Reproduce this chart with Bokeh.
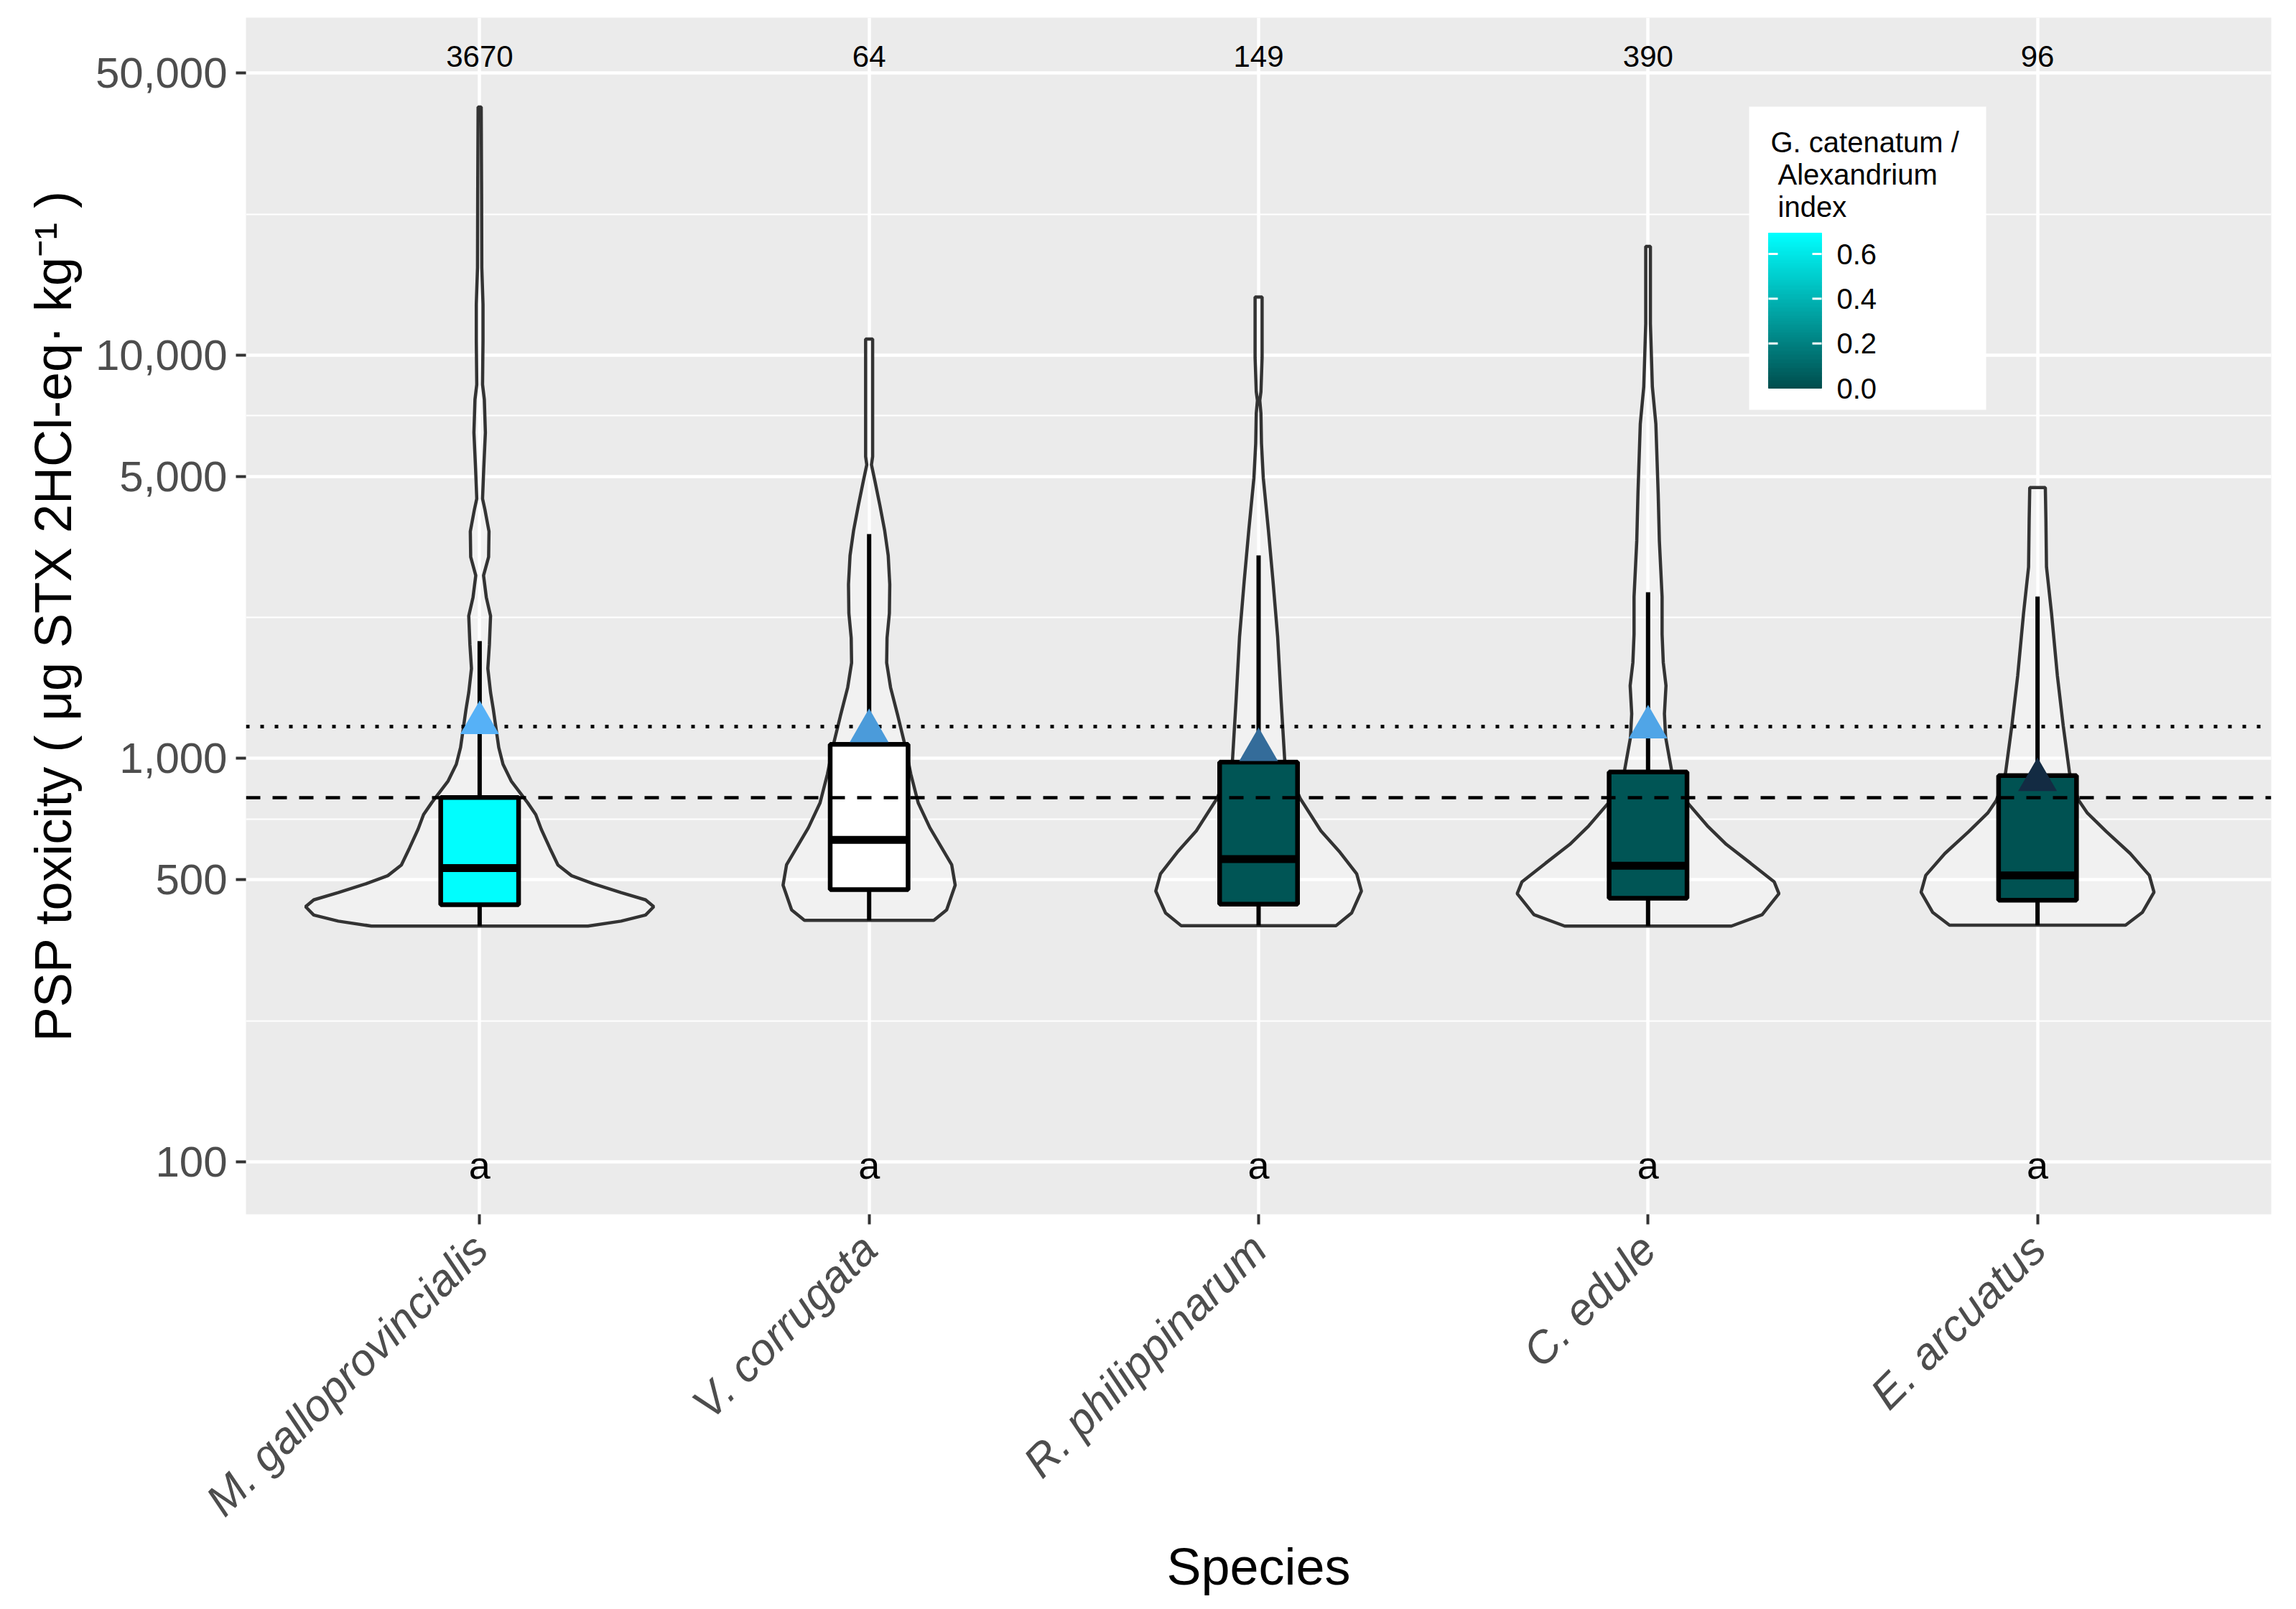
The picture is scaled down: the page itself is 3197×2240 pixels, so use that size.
import math
import numpy as np
from bokeh.plotting import figure
from bokeh.models import Range1d, FixedTicker, NumeralTickFormatter
from bokeh.core.properties import value
from bokeh.embed import file_html
from bokeh.resources import INLINE

# ---------------- data ----------------
species = ["M. galloprovincialis", "V. corrugata", "R. philippinarum", "C. edule", "E. arcuatus"]
n_samples = ["3670", "64", "149", "390", "96"]
letters = ["a", "a", "a", "a", "a"]
gc_alex_index = [0.69, None, 0.03, 0.03, 0.02]   # None -> white (no value)

whisker_low = [384, 397, 385, 384, 386]
q1 = [434, 473, 435, 450, 445]
median = [535, 628, 563, 542, 513]
q3 = [800, 1084, 979, 925, 907]
whisker_high = [1954, 3600, 3187, 2583, 2520]
mean_tox = [1225, 1170, 1050, 1195, 885]

eu_limit = 800
overall_ref = 1200

# violin outlines: toxicity value and half-width (fraction of category spacing)
vio_mg_val = [384, 395, 409, 429, 446, 465, 489, 512, 544, 600, 668, 726, 777, 879, 967, 1065,
              1187, 1324, 1456, 1671, 1915, 2256, 2510, 2841, 3157, 3654, 4140, 4405, 5210,
              6424, 7760, 8450, 10840, 13370, 16480, 25000, 41200]
vio_mg_hw = [0.278, 0.363, 0.426, 0.447, 0.426, 0.363, 0.292, 0.236, 0.201, 0.180, 0.158, 0.144,
             0.123, 0.081, 0.060, 0.049, 0.042, 0.035, 0.028, 0.021, 0.025, 0.028, 0.017, 0.010,
             0.023, 0.024, 0.0135, 0.0074, 0.0104, 0.0147, 0.012, 0.0074, 0.0086, 0.0086,
             0.0055, 0.005, 0.004]
vio_vc_val = [397, 421, 485, 545, 599, 673, 776, 915, 1079, 1272, 1500, 1727, 1989, 2291, 2701,
              3185, 3667, 4222, 4864, 5345, 5603, 10960]
vio_vc_hw = [0.166, 0.199, 0.221, 0.212, 0.187, 0.156, 0.126, 0.107, 0.092, 0.074, 0.055, 0.045,
             0.046, 0.052, 0.053, 0.049, 0.040, 0.028, 0.015, 0.006, 0.009, 0.009]
vio_rp_val = [385, 414, 469, 517, 585, 661, 795, 888, 992, 1382, 1998, 2750, 3694, 4961, 6039,
              7172, 7720, 8110, 9874, 13930]
vio_rp_hw = [0.199, 0.239, 0.264, 0.252, 0.209, 0.160, 0.107, 0.086, 0.067, 0.058, 0.049, 0.037,
             0.025, 0.012, 0.0074, 0.006, 0.003, 0.006, 0.009, 0.009]
vio_ce_val = [384, 410, 462, 494, 550, 612, 681, 773, 842, 938, 1130, 1291, 1515, 1730, 2031,
              2515, 3463, 4521, 6747, 8352, 11970, 18600]
vio_ce_hw = [0.214, 0.293, 0.336, 0.324, 0.263, 0.201, 0.152, 0.103, 0.079, 0.060, 0.045, 0.042,
             0.046, 0.039, 0.036, 0.036, 0.029, 0.026, 0.020, 0.011, 0.006, 0.006]
vio_ea_val = [386, 415, 466, 513, 581, 658, 732, 786, 860, 923, 1204, 1601, 2286, 2983, 3896, 4695]
vio_ea_hw = [0.226, 0.269, 0.299, 0.287, 0.238, 0.177, 0.128, 0.106, 0.091, 0.082, 0.066, 0.051,
             0.036, 0.023, 0.0215, 0.020]

violin_vals = [vio_mg_val, vio_vc_val, vio_rp_val, vio_ce_val, vio_ea_val]
violin_hws = [vio_mg_hw, vio_vc_hw, vio_rp_hw, vio_ce_hw, vio_ea_hw]

y_ticks = [100, 500, 1000, 5000, 10000, 50000]
legend_ticks = [0.0, 0.2, 0.4, 0.6]
legend_max = 0.693

# ---------------- helpers ----------------
def hex_to_rgb(h):
    h = h.lstrip("#")
    return tuple(int(h[i:i + 2], 16) for i in (0, 2, 4))

def mix(c0, c1, t):
    a, b = hex_to_rgb(c0), hex_to_rgb(c1)
    t = min(max(t, 0.0), 1.0)
    return "#%02x%02x%02x" % tuple(int(round(a[i] + (b[i] - a[i]) * t)) for i in range(3))

FILL_LOW, FILL_HIGH = "#004d4d", "#00ffff"
COL_LOW, COL_HIGH = "#132b43", "#56b1f7"

cats = list(range(1, len(species) + 1))
box_fill = ["white" if v is None else mix(FILL_LOW, FILL_HIGH, v / legend_max) for v in gc_alex_index]
mn, mx = min(mean_tox), max(mean_tox)
tri_col = [mix(COL_LOW, COL_HIGH, (m - mn) / (mx - mn)) for m in mean_tox]

FW, FH = 2820, 1666
X0, X1 = 0.4, 5.6
Y0, Y1 = 74.1, 68640.0

def fx(px):
    return X0 + px / FW * (X1 - X0)

def fy(py):
    return 10 ** (math.log10(Y1) - py / FH * (math.log10(Y1) - math.log10(Y0)))

FONT = "Liberation Sans"

p = figure(x_range=Range1d(X0, X1), y_range=Range1d(Y0, Y1), y_axis_type="log",
           frame_width=FW, frame_height=FH, output_backend="svg", toolbar_location=None,
           min_border_left=342, min_border_right=18, min_border_top=24, min_border_bottom=530,
           background_fill_color="#ebebeb", border_fill_color="white", outline_line_color=None,
           x_axis_label="Species", y_axis_label="PSP toxicity ( \u03bcg STX 2HCl-eq\u00b7 kg\u207b\u00b9 )")

# grids
p.xgrid.ticker = FixedTicker(ticks=cats)
p.xgrid.grid_line_color = "white"
p.xgrid.grid_line_width = 4.5
minor_y = [10 ** ((math.log10(a) + math.log10(b)) / 2) for a, b in zip(y_ticks[:-1], y_ticks[1:])]
p.ygrid.ticker = FixedTicker(ticks=y_ticks, minor_ticks=minor_y)
p.ygrid.grid_line_color = "white"
p.ygrid.grid_line_width = 4.5
p.ygrid.minor_grid_line_color = "white"
p.ygrid.minor_grid_line_width = 2.2

# axes
p.yaxis.ticker = FixedTicker(ticks=y_ticks)
p.yaxis.formatter = NumeralTickFormatter(format="0,0")
p.xaxis.ticker = FixedTicker(ticks=cats)
p.xaxis.major_label_overrides = {c: s for c, s in zip(cats, species)}
for ax in (p.xaxis[0], p.yaxis[0]):
    ax.axis_line_color = None
    ax.major_tick_line_color = "#333333"
    ax.major_tick_line_width = 4
    ax.major_tick_out = 14
    ax.major_tick_in = 0
    ax.minor_tick_line_color = None
    ax.major_label_text_font = FONT
    ax.major_label_text_color = "#4d4d4d"
    ax.axis_label_text_font = FONT
    ax.axis_label_text_font_style = "normal"
    ax.axis_label_text_color = "black"
    ax.axis_label_text_font_size = "72px"
p.yaxis.major_label_text_font_size = "60px"
p.yaxis.major_label_standoff = 12
p.yaxis.axis_label_standoff = 16
p.xaxis.major_label_text_font_size = "62px"
p.xaxis.major_label_text_font_style = "italic"
p.xaxis.major_label_orientation = math.pi / 4
p.xaxis.major_label_standoff = 24
p.xaxis.axis_label_standoff = -10

# violins
xs, ys = [], []
for c, vals, hws in zip(cats, violin_vals, violin_hws):
    left = [c - h for h in hws]
    right = [c + h for h in hws][::-1]
    xs.append(left + right)
    ys.append(list(vals) + list(vals)[::-1])
p.patches(xs, ys, fill_color="white", fill_alpha=0.3, line_color="#333333", line_width=4.5)

# boxplots
p.segment(x0=cats, y0=whisker_low, x1=cats, y1=q1, line_color="black", line_width=6)
p.segment(x0=cats, y0=q3, x1=cats, y1=whisker_high, line_color="black", line_width=6)
p.quad(left=[c - 0.1 for c in cats], right=[c + 0.1 for c in cats], bottom=q1, top=q3,
       fill_color=box_fill, line_color="black", line_width=6.5)
p.segment(x0=[c - 0.1 for c in cats], y0=median, x1=[c + 0.1 for c in cats], y1=median,
          line_color="black", line_width=11)

# reference lines
p.hspan(y=[eu_limit], line_color="black", line_width=4.5, line_dash="20 17")
p.hspan(y=[overall_ref], line_color="black", line_width=5, line_dash="5 15")

# means
p.scatter(x=cats, y=mean_tox, marker="triangle", size=54, fill_color=tri_col, line_color=None)

# texts
p.text(x=cats, y=[fy(54)] * len(cats), text=n_samples, text_align="center", text_baseline="middle",
       text_font=value(FONT), text_font_size="42px", text_color="black")
p.text(x=cats, y=[100] * len(cats), text=letters, text_align="center", text_baseline="middle",
       text_font=value(FONT), text_font_size="54px", text_color="black", y_offset=5)

# legend (colour bar)
p.quad(left=[fx(2093)], right=[fx(2423)], top=[fy(124)], bottom=[fy(546)],
       fill_color="white", line_color=None)
for i, t in enumerate(["G. catenatum /", "Alexandrium", "index"]):
    p.text(x=[fx(2123 if i == 0 else 2133)], y=[fy(173 + 45 * i)], text=[t], text_align="left",
           text_baseline="middle", text_font=value(FONT), text_font_size="40px", text_color="black")

def py_of_v(v):
    return 516 - v / 0.6 * 187

nstrip = 90
lvals = np.linspace(0, legend_max, nstrip + 1)
strip_cols = [mix(FILL_LOW, FILL_HIGH, (a + b) / 2 / legend_max) for a, b in zip(lvals[:-1], lvals[1:])]
p.quad(left=[fx(2120)] * nstrip, right=[fx(2194)] * nstrip,
       bottom=[fy(py_of_v(v)) for v in lvals[:-1]], top=[fy(py_of_v(v)) for v in lvals[1:]],
       fill_color=strip_cols, line_color=strip_cols, line_width=1)
tv = [v for v in legend_ticks if v > 0]
p.segment(x0=[fx(2120)] * len(tv), x1=[fx(2133)] * len(tv), y0=[fy(py_of_v(v)) for v in tv],
          y1=[fy(py_of_v(v)) for v in tv], line_color="white", line_width=3)
p.segment(x0=[fx(2181)] * len(tv), x1=[fx(2194)] * len(tv), y0=[fy(py_of_v(v)) for v in tv],
          y1=[fy(py_of_v(v)) for v in tv], line_color="white", line_width=3)
p.text(x=[fx(2215)] * len(legend_ticks), y=[fy(py_of_v(v)) for v in legend_ticks],
       text=["%.1f" % v for v in legend_ticks], text_align="left", text_baseline="middle",
       text_font=value(FONT), text_font_size="40px", text_color="black")

open("out.html", "w").write(file_html(p, INLINE))
